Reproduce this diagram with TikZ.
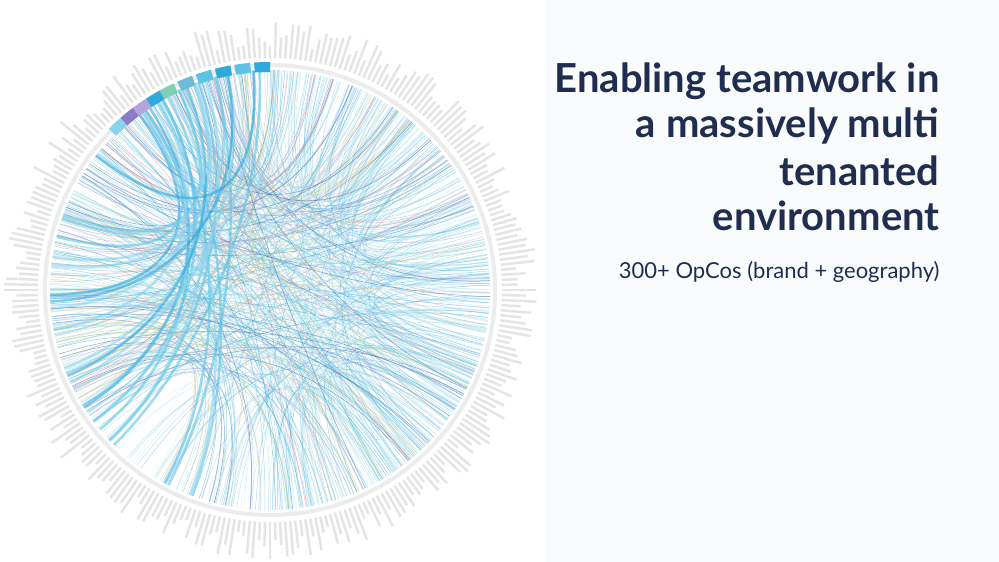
\documentclass[tikz,border=0pt]{standalone}
\usepackage{fontspec}
\setmainfont{Lato}
\definecolor{navy}{HTML}{1F2D4F}
\definecolor{bgr}{HTML}{FAFBFC}
\definecolor{ch1}{HTML}{5CC3E6}
\definecolor{ch2}{HTML}{8AD3EE}
\definecolor{ch3}{HTML}{2FA8DC}
\definecolor{ch4}{HTML}{A9DDEA}
\definecolor{ch5}{HTML}{6FB9D9}
\definecolor{ch6}{HTML}{C8E8F0}
\definecolor{ch7}{HTML}{8E7BC8}
\definecolor{ch8}{HTML}{E38B8B}
\definecolor{ch9}{HTML}{7FD1B3}
\definecolor{ch10}{HTML}{3B5FA8}
\definecolor{ch11}{HTML}{D8C26A}
\definecolor{ch12}{HTML}{B6A4DC}
\tikzset{title/.style={anchor=east,align=right,text=navy,font=\fontsize{40}{44}\selectfont\bfseries},
chord/.style={line width=0.5pt,opacity=0.55}}
\begin{document}
\begin{tikzpicture}[x=1pt,y=1pt]
\useasboundingbox (0,0) rectangle (999,562);
\fill[bgr] (0,0) rectangle (999,562);
\fill[white] (0,0) rectangle (545,562);
\pgfmathsetseed{7}
\begin{scope}[shift={(270,272)}]
\foreach \t in {0,1.25,...,359} {
  \pgfmathsetmacro{\len}{12+25*rnd}
  \draw[gray!35,line width=2.4pt,opacity=0.6] (\t:232) -- (\t:232+\len);
}
\fill[white] (0,0) circle (229);
\draw[gray!15,line width=4pt] (0,0) circle (225);
\foreach \i in {1,...,320} {
  \pgfmathsetmacro{\a}{360*rnd}
  \pgfmathsetmacro{\b}{-90+180*rnd}
  \pgfmathrandominteger{\k}{1}{6}
  \draw[chord,color=ch\k,opacity=0.4] (\a:220) .. controls (\a:70) and (\b:70) .. (\b:220);
}
\foreach \i in {1,...,260} {
  \pgfmathsetmacro{\a}{95+120*rnd}
  \pgfmathsetmacro{\b}{-120+230*rnd}
  \pgfmathrandominteger{\k}{1}{12}
  \draw[chord,color=ch\k] (\a:220) .. controls (\a:80) and (\b:80) .. (\b:220);
}
\foreach \i in {1,...,28} {
  \pgfmathsetmacro{\a}{92+38*rnd}
  \pgfmathsetmacro{\b}{140+110*rnd}
  \pgfmathrandominteger{\k}{1}{3}
  \draw[color=ch\k,line width=2.5pt,opacity=0.6] (\a:220) .. controls (\a:90) and (\b:90) .. (\b:220);
}
\foreach \a/\c in {92/ch3,97/ch1,102/ch3,107/ch1,112/ch5,117/ch9,121/ch3,125/ch12,129/ch7,133/ch2} {
  \fill[\c] (\a-2:218) -- (\a-2:228) arc (\a-2:\a+2:228) -- (\a+2:218) -- cycle;
}
\end{scope}
\node[title] at (943,481) {Enabling teamwork in};
\node[title] at (943,436) {a massively multi};
\node[title] at (943,391) {tenanted};
\node[title] at (943,346) {environment};
\node[anchor=east,text=navy,font=\fontsize{22}{24}\selectfont] at (943,290) {300+ OpCos (brand + geography)};
\end{tikzpicture}
\end{document}
